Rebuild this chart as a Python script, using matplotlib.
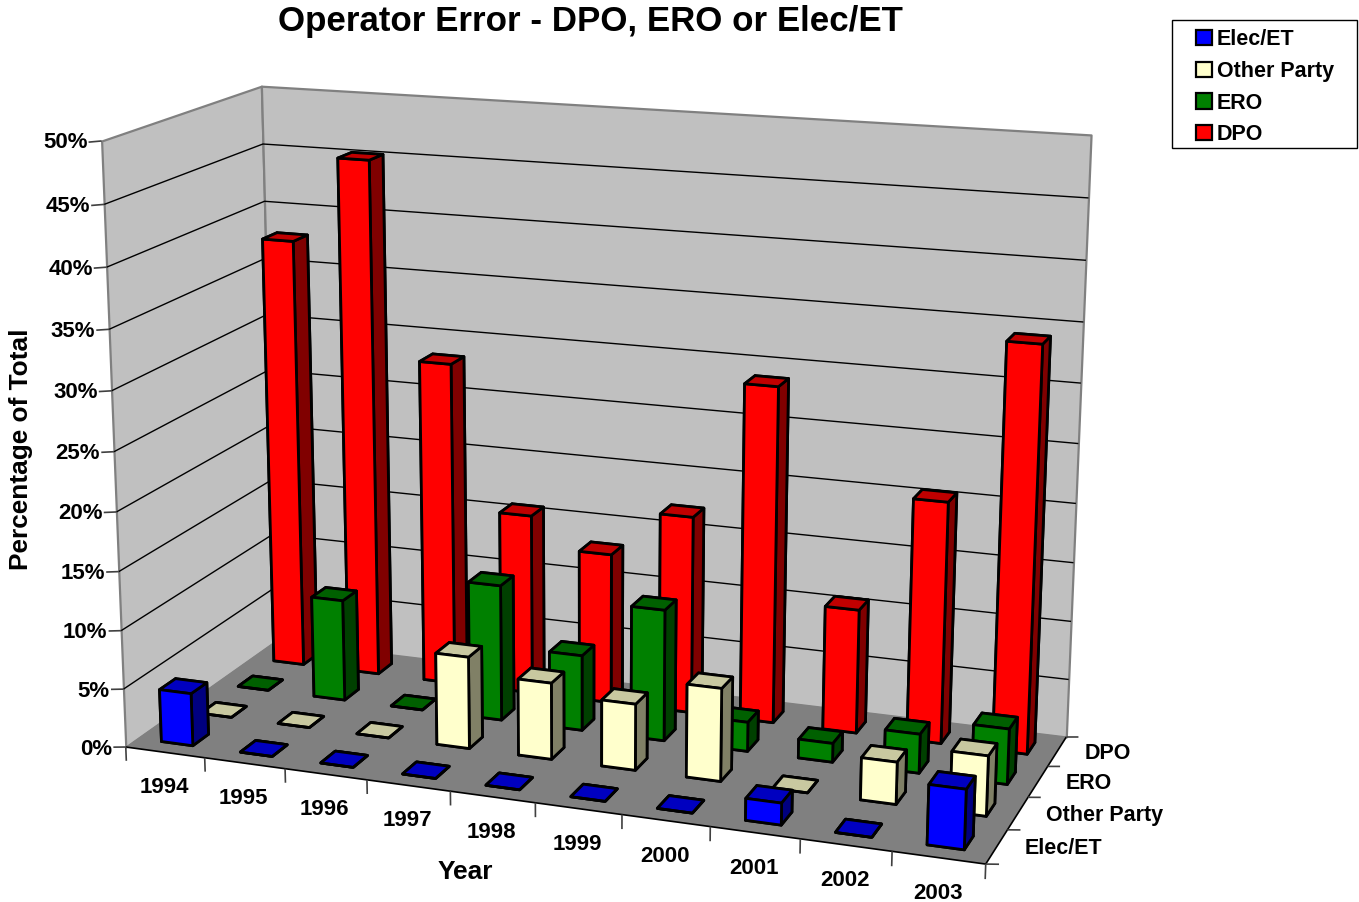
import numpy as np
import matplotlib
matplotlib.use('Agg')
import matplotlib.pyplot as plt
from matplotlib.patches import Patch, Rectangle
from mpl_toolkits.mplot3d import proj3d
from mpl_toolkits.mplot3d.art3d import Poly3DCollection, Line3DCollection

plt.rcParams['font.family'] = ['Liberation Sans', 'DejaVu Sans']
plt.rcParams['font.weight'] = 'bold'

years = ['1994', '1995', '1996', '1997', '1998', '1999', '2000', '2001', '2002', '2003']
series = ['Elec/ET', 'Other Party', 'ERO', 'DPO']
elec_et = [4.5, 0, 0, 0, 0, 0, 0, 1.8, 0, 4.85]
other_party = [0, 0, 0, 7.85, 6.5, 5.6, 7.8, 0, 3.5, 4.95]
ero = [0, 8.85, 0, 11.75, 6.5, 11.25, 2.5, 1.6, 3.3, 4.65]
dpo = [37.8, 45.2, 28.3, 15.75, 13.1, 17.1, 28.85, 10.65, 20.55, 34.15]
values = [elec_et, other_party, ero, dpo]
# front, top, side
colors = [('#0000FF', '#0000C0', '#000080'),
          ('#FFFFCC', '#C8C8A0', '#808066'),
          ('#008000', '#006000', '#004000'),
          ('#FF0000', '#C00000', '#800000')]
zticks = [0, 5, 10, 15, 20, 25, 30, 35, 40, 45, 50]

# camera: fit a projection from the plot box corners to figure pixels
box3d = np.array([[0, 0, 0], [10, 0, 0], [10, 4, 0], [0, 4, 0],
                  [0, 0, 50], [0, 4, 50], [10, 4, 50]], dtype=float)
box2d = np.array([[127, 748], [985, 864], [1067, 737], [275, 640],
                  [101, 140], [262, 87], [1091, 135]], dtype=float)
A = []
b = []
for (x, y, z), (u, v) in zip(box3d, box2d):
    A.append([x, y, z, 1, 0, 0, 0, 0, -u * x, -u * y, -u * z])
    A.append([0, 0, 0, 0, x, y, z, 1, -v * x, -v * y, -v * z])
    b += [u, v]
p = np.linalg.lstsq(np.array(A), np.array(b), rcond=None)[0]
M = np.array([[p[0], p[1], p[2], p[3]],
              [p[4], p[5], p[6], p[7]],
              [0, 0, 0, -1],
              [p[8], p[9], p[10], 1]])

W, H = 1359, 902
fig = plt.figure(figsize=(W / 100, H / 100), dpi=100)
ax = fig.add_axes([0, 0, 1, 1], projection='3d', computed_zorder=False)
ax.set_axis_off()
ax.patch.set_alpha(0)
ax.apply_aspect = lambda position=None: None
ax.get_proj = lambda: M


def pixel_text(px, py, s, **kw):
    return fig.text(px / W, 1 - py / H, s, **kw)


def to_px(x, y, z):
    u, v, _ = proj3d.proj_transform(x, y, z, M)
    return float(u), float(v)


# walls and floor
side_wall = [[(0, 0, 0), (0, 4, 0), (0, 4, 50), (0, 0, 50)]]
back_wall = [[(0, 4, 0), (10, 4, 0), (10, 4, 50), (0, 4, 50)]]
floor = [[(0, 0, 0), (10, 0, 0), (10, 4, 0), (0, 4, 0)]]
ax.add_collection3d(Poly3DCollection(side_wall, facecolors='#C0C0C0', edgecolors='#808080', linewidths=1.6, zorder=1))
ax.add_collection3d(Poly3DCollection(back_wall, facecolors='#C0C0C0', edgecolors='#808080', linewidths=1.6, zorder=1))
grid = []
for t in zticks[1:-1]:
    grid.append([(0, 0, t), (0, 4, t), (10, 4, t)])
ax.add_collection3d(Line3DCollection(grid, colors='black', linewidths=1.0, zorder=2))
ax.add_collection3d(Poly3DCollection(floor, facecolors='#808080', edgecolors='none', zorder=3))
edges = [[(0, 0, 0), (10, 0, 0), (10, 4, 0)]]
ax.add_collection3d(Line3DCollection(edges, colors='black', linewidths=1.2, zorder=4))

# axis ticks and labels
ticks = []
for i in range(len(years) + 1):
    ticks.append([(i, 0, 0), (i, 0, -1.2)])
for j in range(len(series) + 1):
    ticks.append([(10, j, 0), (10.14, j, 0.13)])
for t in zticks:
    ticks.append([(0, 0, t), (-0.16, 0, t - 0.16)])
ax.add_collection3d(Line3DCollection(ticks, colors='#404040', linewidths=1.2, zorder=4))

for i, year in enumerate(years):
    px, py = to_px(i + 0.5, 0, 0)
    pixel_text(px - 1, py + 35.5, year, fontsize=16, ha='center', va='center')
for j, name in enumerate(series):
    px, py = to_px(10, j + 0.5, 0)
    pixel_text(px + 28, py + 2, name, fontsize=15.5, ha='left', va='center')
for t in zticks:
    px, py = to_px(0, 0, t)
    pixel_text(px - 14, py + 2, '%d%%' % t, fontsize=16, ha='right', va='center')

# bars, back row first
width = 0.4
for j in range(len(series) - 1, -1, -1):
    front, top, side = colors[j]
    for i, val in enumerate(values[j]):
        # bottom, top, front, back, left, right
        faces = [top, top, front, side, side, side]
        ax.bar3d(i + 0.3, j + 0.3, 0, width, width, val, color=faces, shade=False,
                 edgecolor='black', linewidth=2.0, zorder=10 + (3 - j) * 20 + i)

ax.viewLim.set_points(np.array([[0, H], [W, 0]], dtype=float))

pixel_text(590, 22, 'Operator Error - DPO, ERO or Elec/ET', fontsize=25.1, ha='center', va='center')
pixel_text(465, 872, 'Year', fontsize=19, ha='center', va='center')
pixel_text(21, 449, 'Percentage of Total', fontsize=18.9, rotation=90, ha='center', va='center')

fig.add_artist(Rectangle((1172 / W, 1 - 148 / H), 185 / W, 128 / H, transform=fig.transFigure,
                         facecolor='white', edgecolor='black', linewidth=1.0))
handles = [Patch(facecolor=c[0], edgecolor='black', linewidth=1.6) for c in colors]
fig.legend(handles, series, loc='upper left', bbox_to_anchor=(1196 / W, 1 - 29 / H), fontsize=15.5,
           frameon=False, handlelength=0.72, handleheight=0.72,
           handletextpad=0.25, labelspacing=0.5, borderpad=0, borderaxespad=0)

fig.savefig('out.png', dpi=100)
